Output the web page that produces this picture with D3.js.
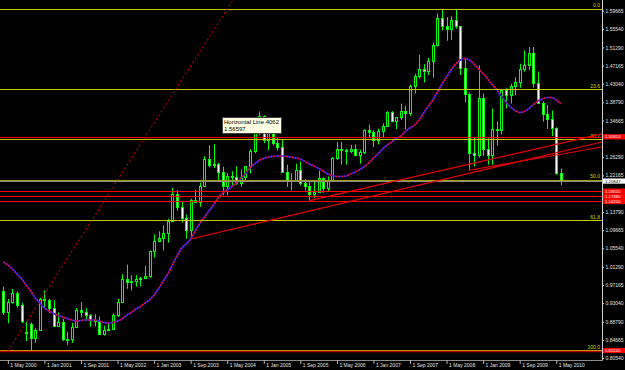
<!DOCTYPE html>
<html>
<head>
<meta charset="utf-8">
<script src="https://cdn.jsdelivr.net/npm/d3@7"></script>
<style>
  html, body { margin: 0; padding: 0; background: #000; }
  svg { display: block; font-family: 'Liberation Sans', Arial, sans-serif; }
</style>
</head>
<body>
<div class="chart"></div>
<script>
// EURUSD monthly, Apr 2000 .. Jun 2010
const firstMonth = new Date(2000, 3, 1)

const opens = [
  0.9570,0.9110,0.9330,0.9525,0.9260,0.8650,0.8820,0.8500,0.8700,
  0.9400,0.9385,0.9200,0.8790,0.8880,0.8490,0.8480,0.8770,0.9140,0.9110,0.9030,0.8920,
  0.8900,0.8600,0.8700,0.8720,0.9030,0.9330,0.9860,0.9780,0.9800,0.9860,0.9880,0.9920,
  1.0490,1.0730,1.0780,1.0910,1.1180,1.1800,1.1500,1.1250,1.0960,1.1650,1.1600,1.1980,
  1.2590,1.2450,1.2480,1.2300,1.1970,1.2200,1.2170,1.2030,1.2170,1.2420,1.2780,1.3270,
  1.3560,1.3030,1.3250,1.2960,1.2860,1.2290,1.2100,1.2120,1.2340,1.2030,1.1980,1.1790,
  1.1840,1.2160,1.1920,1.2110,1.2620,1.2820,1.2790,1.2760,1.2810,1.2670,1.2750,1.3240,
  1.3200,1.3010,1.3230,1.3350,1.3660,1.3450,1.3540,1.3680,1.3640,1.4260,1.4480,1.4630,
  1.4600,1.4820,1.5180,1.5790,1.5610,1.5540,1.5750,1.5610,1.4670,1.4080,1.2730,1.2690,
  1.3970,1.2810,1.2680,1.3280,1.3250,1.4150,1.4040,1.4250,1.4350,1.4640,1.4720,1.5000,
  1.4320,1.3860,1.3620,1.3510,1.3290,1.2270
]
const highs = [
  0.9680,0.9400,0.9630,0.9565,0.9310,0.8880,0.8865,0.8730,0.9430,
  0.9595,0.9400,0.9365,0.9090,0.8950,0.8650,0.8855,0.9195,0.9330,0.9190,0.9050,0.9050,
  0.9000,0.8790,0.8845,0.9070,0.9400,0.9960,1.0180,0.9940,0.9940,0.9900,1.0150,1.0500,
  1.0870,1.0940,1.1080,1.1230,1.1930,1.1880,1.1630,1.1320,1.1680,1.1880,1.2050,1.2650,
  1.2900,1.2930,1.2500,1.2410,1.2270,1.2310,1.2420,1.2350,1.2430,1.2810,1.3320,1.3670,
  1.3580,1.3280,1.3480,1.3090,1.3020,1.2460,1.2260,1.2480,1.2530,1.2130,1.2090,1.2090,
  1.2320,1.2170,1.2190,1.2630,1.2980,1.2980,1.2820,1.2910,1.2920,1.2800,1.3260,1.3370,
  1.3240,1.3280,1.3400,1.3680,1.3680,1.3540,1.3850,1.3800,1.4280,1.4530,1.4970,1.4750,
  1.4890,1.5240,1.5900,1.6000,1.5820,1.5840,1.6010,1.5620,1.4870,1.4100,1.3080,1.4720,
  1.4080,1.3060,1.3740,1.3440,1.4170,1.4200,1.4300,1.4450,1.4760,1.5060,1.5140,1.5140,
  1.4580,1.3900,1.3820,1.3690,1.3310,1.2370
]
const lows = [
  0.9035,0.8845,0.9290,0.9200,0.8850,0.8440,0.8225,0.8400,0.8670,
  0.9180,0.9080,0.8760,0.8780,0.8440,0.8350,0.8400,0.8760,0.8980,0.8900,0.8765,0.8775,
  0.8575,0.8565,0.8665,0.8700,0.8990,0.9320,0.9630,0.9590,0.9680,0.9690,0.9860,0.9880,
  1.0340,1.0690,1.0500,1.0680,1.1160,1.1410,1.1140,1.0770,1.0765,1.1590,1.1500,1.1980,
  1.2400,1.2380,1.2080,1.1760,1.1760,1.1950,1.2000,1.1950,1.2080,1.2260,1.2720,1.3130,
  1.2950,1.2790,1.2900,1.2780,1.2270,1.1950,1.1870,1.2070,1.1990,1.1870,1.1640,1.1700,
  1.1830,1.1820,1.1860,1.2060,1.2570,1.2460,1.2460,1.2720,1.2650,1.2480,1.2700,1.3090,
  1.2860,1.2920,1.3080,1.3320,1.3420,1.3270,1.3480,1.3260,1.3570,1.4080,1.4420,1.4330,
  1.4500,1.4440,1.5150,1.5520,1.5280,1.5300,1.5560,1.4500,1.3880,1.2330,1.2420,1.2620,
  1.2660,1.2460,1.2460,1.2890,1.3150,1.3740,1.3850,1.4040,1.4210,1.4580,1.4620,1.4220,
  1.3860,1.3440,1.3270,1.3110,1.2230,1.1990
]
const closes = [
  0.9110,0.9330,0.9525,0.9260,0.8890,0.8620,0.8500,0.8700,0.9400,
  0.9385,0.9200,0.8790,0.8880,0.8490,0.8480,0.8770,0.9140,0.9110,0.9030,0.8920,0.8900,
  0.8600,0.8700,0.8720,0.9030,0.9330,0.9860,0.9780,0.9800,0.9860,0.9880,0.9920,1.0490,
  1.0730,1.0780,1.0910,1.1180,1.1800,1.1500,1.1250,1.0960,1.1650,1.1600,1.1980,1.2590,
  1.2450,1.2480,1.2300,1.1970,1.2200,1.2170,1.2030,1.2170,1.2420,1.2780,1.3270,1.3560,
  1.3030,1.3250,1.2960,1.2860,1.2290,1.2100,1.2120,1.2340,1.2030,1.1980,1.1790,1.1840,
  1.2160,1.1920,1.2110,1.2620,1.2820,1.2790,1.2760,1.2810,1.2670,1.2750,1.3240,1.3200,
  1.3010,1.3230,1.3350,1.3660,1.3450,1.3540,1.3680,1.3640,1.4260,1.4480,1.4630,1.4600,
  1.4820,1.5180,1.5790,1.5610,1.5540,1.5750,1.5610,1.4670,1.4080,1.2730,1.2690,1.3970,
  1.2810,1.2680,1.3280,1.3250,1.4150,1.4040,1.4250,1.4350,1.4640,1.4720,1.5000,1.4320,
  1.3860,1.3620,1.3510,1.3290,1.2270,1.2085
]
// moving average
const maValues = [
  1.0241,1.0172,1.0081,0.9968,0.9854,0.9717,0.9580,0.9421,0.9307,0.9193,
  0.9124,0.9068,0.9022,0.8988,0.8954,0.8919,0.8897,0.8908,0.8919,0.8919,
  0.8919,0.8897,0.8862,0.8851,0.8862,0.8897,0.8942,0.9033,0.9090,0.9170,
  0.9227,0.9307,0.9375,0.9489,0.9637,0.9808,0.9968,1.0172,1.0378,1.0549,
  1.0651,1.0765,1.0947,1.1118,1.1266,1.1403,1.1540,1.1699,1.1813,1.1881,
  1.1961,1.2041,1.2143,1.2257,1.2383,1.2474,1.2554,1.2599,1.2633,1.2645,
  1.2656,1.2656,1.2645,1.2633,1.2610,1.2588,1.2531,1.2474,1.2428,1.2371,
  1.2314,1.2246,1.2212,1.2189,1.2189,1.2200,1.2246,1.2292,1.2348,1.2417,
  1.2497,1.2610,1.2702,1.2816,1.2907,1.2975,1.3055,1.3112,1.3214,1.3294,
  1.3362,1.3476,1.3636,1.3784,1.3932,1.4114,1.4296,1.4456,1.4615,1.4752,
  1.4843,1.4877,1.4843,1.4752,1.4638,1.4536,1.4410,1.4285,1.4160,1.4023,
  1.3886,1.3772,1.3693,1.3647,1.3670,1.3738,1.3829,1.3909,1.3955,1.3989,
  1.3989,1.3932,1.3852
]

const xTickLabels = ['1 May 2000', '1 Jan 2001', '1 Sep 2001', '1 May 2002', '1 Jan 2003',
  '1 Sep 2003', '1 May 2004', '1 Jan 2005', '1 Sep 2005', '1 May 2006', '1 Jan 2007',
  '1 Sep 2007', '1 May 2008', '1 Jan 2009', '1 Sep 2009', '1 May 2010']
// scale labels that are not hidden behind the price tags
const yTicks = [1.59665, 1.55540, 1.51290, 1.47165, 1.43040, 1.38790, 1.34665,
  1.26290, 1.22165, 1.13790, 1.09665, 1.05540, 1.01290, 0.97165, 0.93040,
  0.88790, 0.84665, 0.80540]

// fibonacci retracement
const fibHigh = 1.6010
const fibLow = 0.8225
const fibLevels = [0, 23.6, 38.2, 50, 61.8, 100]

// horizontal lines and price tags
const redLines = [1.30924, 1.18555, 1.17380, 1.16200, 0.82245]
const bidPrice = 1.20847

// trend lines as [monthIndex, price] pairs
const trendLines = [
  [[41, 1.0765], [131, 1.2975]],
  [[67, 1.1640], [131, 1.3160]],
  [[102, 1.2330], [131, 1.2861]]
]
const dottedLine = [[1.03, 0.8213], [50.26, 1.6210]]

const tooltipLines = ['Horizontal Line 4062', '1.56597']

// ---------------------------------------------------------------
const W = 625, H = 370
const plotRight = 602, plotBottom = 360

const x = d3.scaleLinear().domain([0, 122]).range([3.3, 560.8])
const y = d3.scaleLinear().domain([0.80540, 1.59665]).range([358, 10.7])
const px = (i) => Math.round(x(i)) + 0.5
const py = (p) => Math.round(y(p)) + 0.5

const svg = d3.select('.chart')
    .append('svg')
        .attr('width', W)
        .attr('height', H)

svg.append('rect')
    .attr('width', W)
    .attr('height', H)
    .attr('fill', '#000')

svg.append('defs').append('clipPath')
        .attr('id', 'plot')
    .append('rect')
        .attr('width', plotRight)
        .attr('height', plotBottom)

const plot = svg.append('g').attr('clip-path', 'url(#plot)')

//candles
const candles = plot.append('g')
    .selectAll('g')
    .data(opens.map((o, i) => ({ i, o, h: highs[i], l: lows[i], c: closes[i] })))
    .enter()
    .append('g')

candles.append('line')
    .attr('x1', (d) => px(d.i))
    .attr('x2', (d) => px(d.i))
    .attr('y1', (d) => y(d.h))
    .attr('y2', (d) => y(d.l))
    .attr('stroke', '#00ff00')
    .attr('stroke-width', 1)

candles.append('rect')
    .attr('x', (d) => px(d.i) - 1)
    .attr('width', 2)
    .attr('y', (d) => Math.round(y(Math.max(d.o, d.c))) + 0.5)
    .attr('height', (d) => Math.max(1, Math.round(y(Math.min(d.o, d.c))) - Math.round(y(Math.max(d.o, d.c)))))
    .attr('fill', (d) => d.c >= d.o ? '#000' : '#fff')
    .attr('stroke', '#00ff00')
    .attr('stroke-width', 1)

//moving average (blue with red dots on top)
const maLine = d3.line()
    .x((d, i) => x(i))
    .y((d) => y(d))
    .curve(d3.curveMonotoneX)

plot.append('path')
    .attr('d', maLine(maValues))
    .attr('fill', 'none')
    .attr('stroke', '#1a1aff')
    .attr('stroke-width', 1.6)

plot.append('path')
    .attr('d', maLine(maValues))
    .attr('fill', 'none')
    .attr('stroke', '#ff1010')
    .attr('stroke-width', 1.6)
    .attr('stroke-dasharray', '1.5,1.5')

//fibonacci levels
const fibPrice = (lvl) => fibHigh - (fibHigh - fibLow) * lvl / 100

plot.selectAll('.fib')
    .data(fibLevels)
    .enter()
    .append('line')
        .classed('fib', true)
        .attr('x1', 0)
        .attr('x2', plotRight)
        .attr('y1', (d) => py(fibPrice(d)))
        .attr('y2', (d) => py(fibPrice(d)))
        .attr('stroke', (d) => d === 50 ? '#a0a000' : '#c8c800')
        .attr('stroke-width', 1)

plot.selectAll('.fibLabel')
    .data(fibLevels)
    .enter()
    .append('text')
        .classed('fibLabel', true)
        .attr('x', 600)
        .attr('y', (d) => y(fibPrice(d)) - 1.3)
        .attr('text-anchor', 'end')
        .attr('fill', '#d8d800')
        .style('font-size', '5px')
        .text((d) => d.toFixed(1))

//current price line
plot.append('line')
    .attr('x1', 0)
    .attr('x2', plotRight)
    .attr('y1', py(bidPrice))
    .attr('y2', py(bidPrice))
    .attr('stroke', '#8c8c8c')

//horizontal lines
plot.selectAll('.hline')
    .data(redLines)
    .enter()
    .append('line')
        .classed('hline', true)
        .attr('x1', 0)
        .attr('x2', plotRight)
        .attr('y1', (d) => Math.round(y(d)) + 0.5)
        .attr('y2', (d) => Math.round(y(d)) + 0.5)
        .attr('stroke', (d, i) => i === redLines.length - 1 ? '#b00000' : '#ff0000')
        .attr('stroke-width', (d, i) => i === redLines.length - 1 ? 1.6 : 1.2)

//trend lines
plot.selectAll('.trend')
    .data(trendLines)
    .enter()
    .append('line')
        .classed('trend', true)
        .attr('x1', (d) => x(d[0][0]))
        .attr('y1', (d) => y(d[0][1]))
        .attr('x2', (d) => x(d[1][0]))
        .attr('y2', (d) => y(d[1][1]))
        .attr('stroke', '#e80000')
        .attr('stroke-width', 1.1)

plot.append('line')
    .attr('x1', x(dottedLine[0][0]))
    .attr('y1', y(dottedLine[0][1]))
    .attr('x2', x(dottedLine[1][0]))
    .attr('y2', y(dottedLine[1][1]))
    .attr('stroke', '#b40000')
    .attr('stroke-width', 1.1)
    .attr('stroke-dasharray', '2,2.5')

//axes
svg.append('line')
    .attr('x1', 0).attr('x2', plotRight + 0.5)
    .attr('y1', plotBottom + 0.5).attr('y2', plotBottom + 0.5)
    .attr('stroke', '#8c8c8c')

svg.append('line')
    .attr('x1', plotRight + 0.5).attr('x2', plotRight + 0.5)
    .attr('y1', 0).attr('y2', plotBottom + 0.5)
    .attr('stroke', '#d0d0d0')

const parseLabel = d3.timeParse('%e %b %Y')
const xTickIdx = xTickLabels.map((l) => d3.timeMonth.count(firstMonth, parseLabel(l)))

const xAxis = svg.append('g')
    .attr('transform', `translate(0, ${plotBottom})`)
    .call(d3.axisBottom(x)
        .tickValues(xTickIdx)
        .tickFormat((d, i) => xTickLabels[i])
        .tickSize(4))

xAxis.select('.domain').remove()
xAxis.selectAll('line').attr('stroke', '#b0b0b0')
xAxis.selectAll('text')
    .attr('text-anchor', 'start')
    .attr('x', 2)
    .attr('y', 3.5)
    .attr('fill', '#e0e0e0')
    .style('font-size', '5px')
    .style('font-family', "'Liberation Sans', Arial, sans-serif")

const yAxis = svg.append('g')
    .attr('transform', `translate(${plotRight}, 0)`)
    .call(d3.axisRight(y)
        .tickValues(yTicks)
        .tickFormat(d3.format('.5f'))
        .tickSize(2)
        .tickPadding(1.5))

yAxis.select('.domain').remove()
yAxis.selectAll('line').attr('stroke', '#d0d0d0')
yAxis.selectAll('text')
    .attr('fill', '#e0e0e0')
    .style('font-size', '5px')
    .style('font-family', "'Liberation Sans', Arial, sans-serif")

//price tags on the right scale
const tags = svg.append('g')

const tagData = redLines.map((p) => ({ p, bg: '#ff0000', fg: '#ffffff' }))
    .concat([{ p: bidPrice, bg: '#ffffff', fg: '#000000' }])

tags.selectAll('rect')
    .data(tagData)
    .enter()
    .append('rect')
        .attr('x', plotRight + 1)
        .attr('y', (d) => y(d.p) - 2.6)
        .attr('width', 22)
        .attr('height', 5.2)
        .attr('fill', (d) => d.bg)

tags.selectAll('text')
    .data(tagData)
    .enter()
    .append('text')
        .attr('x', plotRight + 3)
        .attr('y', (d) => y(d.p))
        .attr('dy', '0.34em')
        .attr('fill', (d) => d.fg)
        .style('font-size', '4.3px')
        .text((d) => d.p.toFixed(5))

//tooltip of the hovered horizontal line
const tip = svg.append('g')
    .attr('transform', 'translate(222, 117)')

tip.append('rect')
    .attr('x', 0.5)
    .attr('y', 0.5)
    .attr('width', 59)
    .attr('height', 16)
    .attr('fill', '#ffffe1')
    .attr('stroke', '#404040')

tip.selectAll('text')
    .data(tooltipLines)
    .enter()
    .append('text')
        .attr('x', 2)
        .attr('y', (d, i) => 7 + i * 6.5)
        .attr('fill', '#000')
        .style('font-size', '6px')
        .text((d) => d)
</script>
</body>
</html>
